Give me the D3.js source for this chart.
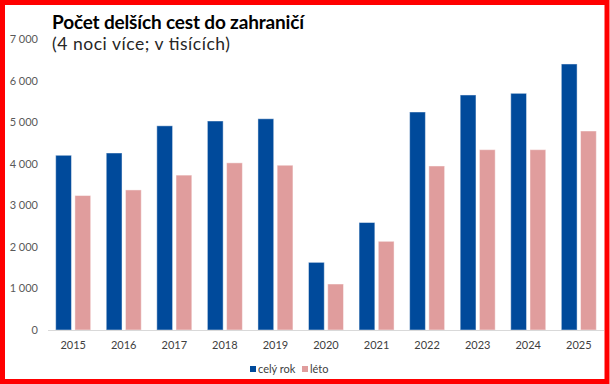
<!DOCTYPE html>
<html>
<head>
<meta charset="utf-8">
<script src="https://cdn.jsdelivr.net/npm/d3@7"></script>
<style>
    html, body { margin: 0; padding: 0; background: #fff; }
    svg { display: block; font-family: Lato, "Open Sans", sans-serif; }
</style>
</head>
<body>
<div id="chart"></div>
<script>
const years = ["2015", "2016", "2017", "2018", "2019", "2020", "2021", "2022", "2023", "2024", "2025"];
const celyRok = [4210, 4265, 4920, 5036, 5090, 1630, 2590, 5253, 5663, 5703, 6410];
const leto = [3240, 3375, 3732, 4028, 3970, 1108, 2137, 3952, 4345, 4345, 4795];
const seriesNames = ["celý rok", "léto"];
const yTicks = [0, 1000, 2000, 3000, 4000, 5000, 6000, 7000];

const width = 610;
const height = 384;
const colors = ["#004a9b", "#e09d9d"];

const locale = d3.formatLocale({ decimal: ",", thousands: " ", grouping: [3], currency: ["", " Kč"] });
const format = locale.format(",d");

const data = years.map((y, i) => ({ year: y, values: [celyRok[i], leto[i]] }));

const svg = d3.select("#chart")
    .append("svg")
    .attr("width", width)
    .attr("height", height);

svg.append("rect")
    .attr("width", width)
    .attr("height", height)
    .attr("fill", "#fff");

const x = d3.scaleBand()
    .domain(years)
    .range([48, 604])
    .paddingInner(0.308)
    .paddingOuter(0.152);

const x1 = d3.scaleBand()
    .domain(d3.range(seriesNames.length))
    .range([0, x.bandwidth()])
    .paddingInner(0.18);

const y = d3.scaleLinear()
    .domain([0, 7000])
    .range([330, 39.5]);

// y axis labels (no line, no gridlines)
svg.append("g")
    .selectAll("text")
    .data(yTicks)
    .join("text")
    .attr("x", 38)
    .attr("y", d => y(d))
    .attr("dy", "0.35em")
    .attr("text-anchor", "end")
    .attr("fill", "#595959")
    .style("font-size", "11px")
    .text(d => format(d));

// bars
const group = svg.append("g")
    .selectAll("g")
    .data(data)
    .join("g")
    .attr("transform", d => `translate(${x(d.year)},0)`);

group.selectAll("rect")
    .data(d => d.values)
    .join("rect")
    .attr("x", (d, i) => x1(i))
    .attr("y", d => y(d))
    .attr("width", x1.bandwidth())
    .attr("height", d => y(0) - y(d))
    .attr("fill", (d, i) => colors[i])
    .attr("stroke", "#fff")
    .attr("stroke-opacity", 0.45)
    .attr("stroke-width", 1);

// x axis line
svg.append("line")
    .attr("x1", 48)
    .attr("x2", 604)
    .attr("y1", y(0) + 0.5)
    .attr("y2", y(0) + 0.5)
    .attr("stroke", "#d9d9d9")
    .attr("stroke-width", 1);

svg.append("g")
    .selectAll("text")
    .data(years)
    .join("text")
    .attr("x", d => x(d) + x.bandwidth() / 2)
    .attr("y", 349)
    .attr("text-anchor", "middle")
    .attr("fill", "#404040")
    .style("font-size", "11px")
    .text(d => d);

// title
svg.append("text")
    .attr("x", 52)
    .attr("y", 29)
    .attr("fill", "#000")
    .style("font-size", "19px")
    .style("font-weight", "bold")
    .attr("textLength", 252)
    .attr("lengthAdjust", "spacing")
    .text("Počet delších cest do zahraničí");

svg.append("text")
    .attr("x", 52)
    .attr("y", 50)
    .attr("fill", "#262626")
    .style("font-size", "17.5px")
    .attr("textLength", 178)
    .attr("lengthAdjust", "spacing")
    .text("(4 noci více; v tisících)");

// legend
const legendX = [250, 302];
const legend = svg.append("g")
    .selectAll("g")
    .data(seriesNames)
    .join("g")
    .attr("transform", (d, i) => `translate(${legendX[i]},366)`);

legend.append("rect")
    .attr("width", 6)
    .attr("height", 6)
    .attr("fill", (d, i) => colors[i]);

legend.append("text")
    .attr("x", 8)
    .attr("y", 3)
    .attr("dy", "0.35em")
    .attr("fill", "#404040")
    .style("font-size", "11px")
    .text(d => d);

// red frame
svg.append("rect")
    .attr("x", 2.5)
    .attr("y", 2.5)
    .attr("width", width - 2.5 - 3)
    .attr("height", height - 2.5 - 2.5)
    .attr("fill", "none")
    .attr("stroke", "#ff0000")
    .attr("stroke-width", 5);
</script>
</body>
</html>
